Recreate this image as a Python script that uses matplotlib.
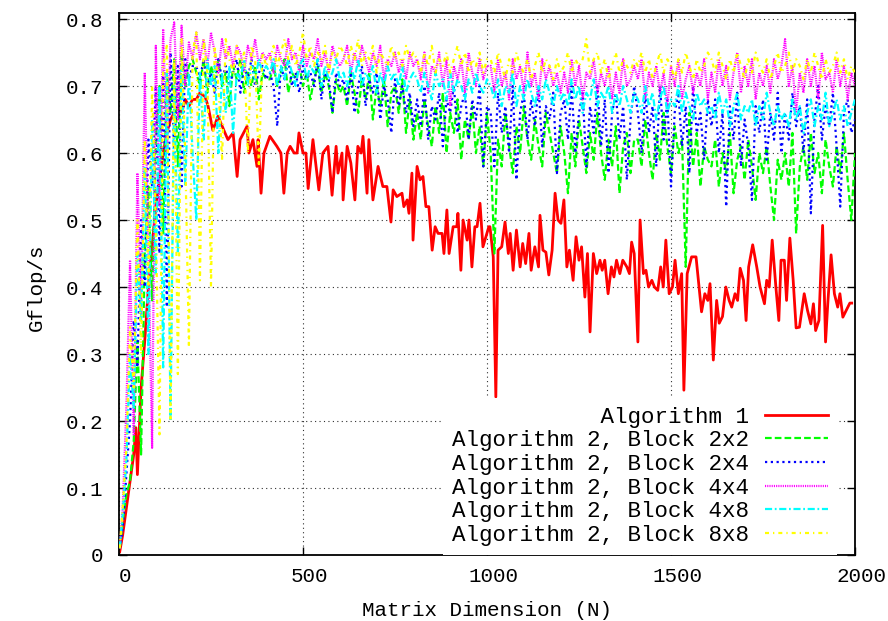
import matplotlib
matplotlib.use("Agg")
import matplotlib.pyplot as plt
import matplotlib.transforms as mtransforms

plt.rcParams['font.family'] = ['Liberation Mono', 'DejaVu Sans Mono']

# matrix sizes for the blocked runs (first point near the origin)
n_block = [2] + list(range(10, 2001, 10))

# Algorithm 1 (irregular spacing)
alg1_n = [2, 10, 20, 30, 40, 46, 50, 60, 70, 80,
          90, 100, 110, 120, 130, 140, 150, 160, 170, 180,
          190, 200, 210, 220,
          234, 242, 255, 269, 288, 296, 310, 321, 329, 348,
          353, 364, 375, 378, 386, 394, 410, 429, 440, 448,
          457, 465, 476, 484, 489, 500, 508, 514, 527, 543,
          554, 568, 579, 590, 595, 606, 609, 620, 630, 641,
          649, 658, 663, 674, 679, 690, 704, 717, 728, 739,
          745, 755, 769, 774, 783, 788, 796, 799, 810, 818,
          826, 834, 842, 851, 859, 867, 878, 883, 891, 897,
          908, 918, 921, 929, 935, 946, 951, 959, 967, 973,
          981, 989, 1005,
          1008, 1017, 1024, 1030, 1040, 1049, 1058, 1063, 1071, 1080,
          1090, 1097, 1105, 1114, 1120, 1130, 1140, 1144, 1152, 1160,
          1168, 1177, 1185, 1193, 1201, 1209, 1217, 1224, 1234, 1242,
          1250, 1257, 1266, 1273, 1280, 1289, 1298, 1307, 1313, 1320,
          1329, 1338, 1345, 1352, 1361, 1369, 1380, 1387, 1393, 1400,
          1410, 1416, 1425, 1432, 1439, 1448, 1455, 1464, 1472, 1479,
          1486, 1495, 1504, 1511, 1520, 1529, 1535, 1544, 1556, 1568,
          1583, 1592, 1600, 1606, 1615, 1624, 1631, 1640, 1649, 1658,
          1665, 1674, 1681, 1688, 1697, 1704, 1711, 1722, 1733, 1742,
          1754, 1760, 1767, 1775, 1785, 1793, 1799, 1808, 1814, 1823,
          1832, 1840, 1849, 1862, 1871, 1880, 1887, 1893, 1902, 1912,
          1920, 1926, 1935, 1944, 1953, 1959, 1967, 1976, 1986, 1991]
alg1_gf = [0.005, 0.03, 0.07, 0.11, 0.15, 0.19, 0.12, 0.25, 0.32, 0.40,
           0.46, 0.52, 0.56, 0.60, 0.63, 0.65, 0.66, 0.67, 0.66, 0.68,
           0.67, 0.68, 0.68, 0.69,
           0.684, 0.67, 0.634, 0.655, 0.63, 0.62, 0.63, 0.565, 0.62, 0.64,
           0.60, 0.62, 0.58, 0.62, 0.54, 0.60, 0.625, 0.61, 0.60, 0.54,
           0.60, 0.61, 0.60, 0.60, 0.63, 0.60, 0.60, 0.547, 0.62, 0.545,
           0.60, 0.61, 0.537, 0.61, 0.57, 0.60, 0.53, 0.61, 0.585, 0.53,
           0.61, 0.60, 0.625, 0.54, 0.62, 0.53, 0.58, 0.55, 0.55, 0.497,
           0.545, 0.535, 0.54, 0.52, 0.53, 0.51, 0.57, 0.47, 0.58, 0.56,
           0.565, 0.52, 0.52, 0.455, 0.49, 0.48, 0.48, 0.45, 0.515, 0.45,
           0.49, 0.49, 0.51, 0.425, 0.50, 0.47, 0.50, 0.43, 0.49, 0.49,
           0.525, 0.46, 0.49,
           0.49, 0.445, 0.236, 0.455, 0.46, 0.497, 0.45, 0.48, 0.425, 0.485,
           0.43, 0.465, 0.435, 0.48, 0.425, 0.46, 0.43, 0.507, 0.455, 0.452,
           0.418, 0.455, 0.54, 0.50, 0.495, 0.53, 0.43, 0.455, 0.41, 0.475,
           0.44, 0.46, 0.385, 0.45, 0.333, 0.45, 0.42, 0.44, 0.425, 0.44,
           0.39, 0.43, 0.415, 0.44, 0.42, 0.44, 0.43, 0.42, 0.467, 0.45,
           0.318, 0.50, 0.42, 0.425, 0.40, 0.41, 0.40, 0.395, 0.43, 0.40,
           0.47, 0.39, 0.40, 0.44, 0.39, 0.42, 0.246, 0.42, 0.445, 0.445,
           0.363, 0.39, 0.38, 0.405, 0.291, 0.38, 0.346, 0.356, 0.40, 0.38,
           0.37, 0.39, 0.38, 0.428, 0.41, 0.35, 0.43, 0.463, 0.43, 0.40,
           0.375, 0.41, 0.40, 0.47, 0.40, 0.35, 0.44, 0.44, 0.38, 0.473,
           0.41, 0.339, 0.34, 0.39, 0.365, 0.345, 0.375, 0.335, 0.35, 0.492,
           0.318, 0.375, 0.448, 0.39, 0.37, 0.39, 0.355, 0.365, 0.376, 0.376]

block_2x2 = [0.01,
    0.05, 0.09, 0.11, 0.17, 0.32, 0.15, 0.45, 0.55, 0.38, 0.62, 0.70, 0.48, 0.72, 0.66, 0.74, 0.58, 0.75, 0.70, 0.73, 0.74,
    0.72, 0.70, 0.74, 0.69, 0.73, 0.71, 0.74, 0.70, 0.72, 0.67, 0.73, 0.71, 0.74, 0.69, 0.72, 0.70, 0.73, 0.68, 0.72, 0.71,
    0.71, 0.73, 0.70, 0.72, 0.74, 0.69, 0.72, 0.71, 0.73, 0.70, 0.72, 0.68, 0.71, 0.73, 0.69, 0.72, 0.70, 0.66, 0.71, 0.69,
    0.70, 0.67, 0.72, 0.69, 0.66, 0.71, 0.68, 0.72, 0.65, 0.70, 0.67, 0.71, 0.64, 0.69, 0.70, 0.66, 0.71, 0.63, 0.68, 0.62,
    0.66, 0.62, 0.68, 0.64, 0.61, 0.67, 0.63, 0.69, 0.60, 0.66, 0.63, 0.68, 0.59, 0.65, 0.62, 0.67, 0.60, 0.64, 0.58, 0.66,
    0.60, 0.45, 0.62, 0.58, 0.66, 0.61, 0.57, 0.64, 0.60, 0.67, 0.62, 0.59, 0.65, 0.61, 0.58, 0.66, 0.63, 0.60, 0.57, 0.64,
    0.60, 0.54, 0.63, 0.58, 0.65, 0.61, 0.57, 0.63, 0.59, 0.66, 0.60, 0.56, 0.62, 0.58, 0.64, 0.54, 0.61, 0.63, 0.57, 0.62,
    0.62, 0.58, 0.65, 0.60, 0.56, 0.63, 0.59, 0.66, 0.61, 0.57, 0.64, 0.60, 0.62, 0.43, 0.66, 0.58, 0.63, 0.55, 0.61, 0.59,
    0.58, 0.62, 0.55, 0.60, 0.57, 0.63, 0.54, 0.59, 0.61, 0.56, 0.62, 0.58, 0.53, 0.60, 0.57, 0.61, 0.55, 0.50, 0.59, 0.56,
    0.60, 0.55, 0.63, 0.48, 0.58, 0.61, 0.56, 0.63, 0.57, 0.60, 0.54, 0.62, 0.58, 0.55, 0.61, 0.57, 0.63, 0.56, 0.50, 0.60]

block_2x4 = [0.01,
    0.04, 0.12, 0.20, 0.35, 0.28, 0.50, 0.40, 0.62, 0.55, 0.70, 0.45, 0.72, 0.37, 0.75, 0.60, 0.73, 0.55, 0.74, 0.71, 0.73,
    0.73, 0.71, 0.74, 0.70, 0.72, 0.69, 0.74, 0.71, 0.73, 0.70, 0.72, 0.74, 0.69, 0.73, 0.71, 0.74, 0.70, 0.72, 0.73, 0.71,
    0.72, 0.70, 0.64, 0.73, 0.71, 0.74, 0.70, 0.72, 0.69, 0.73, 0.71, 0.72, 0.70, 0.74, 0.68, 0.72, 0.71, 0.66, 0.72, 0.70,
    0.71, 0.68, 0.72, 0.66, 0.70, 0.73, 0.67, 0.71, 0.69, 0.72, 0.65, 0.70, 0.68, 0.63, 0.71, 0.67, 0.70, 0.66, 0.69, 0.64,
    0.68, 0.64, 0.70, 0.62, 0.67, 0.65, 0.69, 0.61, 0.68, 0.66, 0.70, 0.63, 0.67, 0.69, 0.62, 0.68, 0.65, 0.70, 0.58, 0.67,
    0.66, 0.58, 0.69, 0.63, 0.67, 0.60, 0.70, 0.56, 0.66, 0.69, 0.62, 0.68, 0.64, 0.70, 0.61, 0.67, 0.65, 0.69, 0.57, 0.66,
    0.68, 0.62, 0.70, 0.60, 0.66, 0.69, 0.58, 0.67, 0.63, 0.70, 0.61, 0.68, 0.57, 0.66, 0.69, 0.62, 0.67, 0.56, 0.65, 0.70,
    0.66, 0.60, 0.69, 0.63, 0.67, 0.58, 0.70, 0.62, 0.68, 0.55, 0.66, 0.69, 0.61, 0.67, 0.57, 0.70, 0.63, 0.66, 0.59, 0.68,
    0.64, 0.68, 0.60, 0.66, 0.52, 0.67, 0.62, 0.69, 0.58, 0.65, 0.61, 0.53, 0.67, 0.63, 0.68, 0.59, 0.66, 0.62, 0.69, 0.60,
    0.66, 0.62, 0.69, 0.64, 0.67, 0.60, 0.68, 0.51, 0.65, 0.70, 0.62, 0.67, 0.64, 0.69, 0.61, 0.52, 0.66, 0.68, 0.63, 0.65]

block_4x4 = [0.01,
    0.07, 0.22, 0.44, 0.18, 0.57, 0.36, 0.72, 0.45, 0.16, 0.76, 0.52, 0.785, 0.60, 0.77, 0.795, 0.65, 0.79, 0.70, 0.765, 0.74,
    0.78, 0.74, 0.77, 0.73, 0.78, 0.75, 0.72, 0.77, 0.74, 0.76, 0.73, 0.76, 0.75, 0.72, 0.76, 0.74, 0.77, 0.73, 0.75, 0.74,
    0.75, 0.72, 0.76, 0.74, 0.73, 0.77, 0.74, 0.75, 0.72, 0.76, 0.73, 0.75, 0.74, 0.77, 0.73, 0.75, 0.72, 0.76, 0.74, 0.73,
    0.74, 0.76, 0.72, 0.75, 0.73, 0.76, 0.74, 0.72, 0.75, 0.73, 0.76, 0.71, 0.74, 0.73, 0.75, 0.72, 0.74, 0.71, 0.75, 0.73,
    0.74, 0.71, 0.75, 0.69, 0.73, 0.72, 0.75, 0.70, 0.74, 0.67, 0.73, 0.71, 0.74, 0.69, 0.75, 0.72, 0.70, 0.74, 0.71, 0.73,
    0.73, 0.69, 0.74, 0.70, 0.72, 0.68, 0.74, 0.71, 0.73, 0.69, 0.75, 0.70, 0.72, 0.68, 0.74, 0.71, 0.73, 0.70, 0.72, 0.69,
    0.72, 0.69, 0.74, 0.70, 0.73, 0.68, 0.72, 0.71, 0.74, 0.69, 0.72, 0.70, 0.73, 0.68, 0.72, 0.69, 0.74, 0.70, 0.71, 0.73,
    0.71, 0.74, 0.68, 0.72, 0.70, 0.73, 0.69, 0.72, 0.67, 0.73, 0.70, 0.74, 0.68, 0.71, 0.73, 0.69, 0.72, 0.70, 0.74, 0.68,
    0.72, 0.69, 0.74, 0.70, 0.73, 0.68, 0.72, 0.75, 0.69, 0.73, 0.70, 0.74, 0.68, 0.72, 0.70, 0.73, 0.69, 0.74, 0.71, 0.73,
    0.77, 0.70, 0.73, 0.66, 0.72, 0.69, 0.74, 0.70, 0.73, 0.68, 0.75, 0.71, 0.72, 0.69, 0.74, 0.70, 0.73, 0.68, 0.72, 0.70]

block_4x8 = [0.01,
    0.06, 0.14, 0.30, 0.22, 0.45, 0.35, 0.58, 0.30, 0.65, 0.42, 0.70, 0.28, 0.72, 0.20, 0.70, 0.45, 0.73, 0.55, 0.72, 0.60,
    0.50, 0.72, 0.62, 0.74, 0.70, 0.73, 0.60, 0.72, 0.66, 0.73, 0.63, 0.72, 0.71, 0.74, 0.70, 0.73, 0.71, 0.74, 0.72, 0.73,
    0.72, 0.74, 0.70, 0.73, 0.71, 0.74, 0.72, 0.70, 0.73, 0.74, 0.71, 0.73, 0.72, 0.74, 0.70, 0.73, 0.71, 0.72, 0.74, 0.71,
    0.72, 0.70, 0.73, 0.71, 0.74, 0.70, 0.72, 0.71, 0.73, 0.69, 0.72, 0.70, 0.73, 0.71, 0.72, 0.70, 0.73, 0.69, 0.71, 0.72,
    0.71, 0.69, 0.72, 0.70, 0.68, 0.72, 0.70, 0.71, 0.68, 0.72, 0.69, 0.71, 0.70, 0.68, 0.71, 0.69, 0.72, 0.70, 0.69, 0.71,
    0.70, 0.68, 0.71, 0.67, 0.70, 0.69, 0.72, 0.67, 0.70, 0.68, 0.71, 0.69, 0.67, 0.70, 0.68, 0.71, 0.69, 0.67, 0.70, 0.68,
    0.69, 0.67, 0.71, 0.68, 0.70, 0.66, 0.69, 0.68, 0.71, 0.67, 0.69, 0.68, 0.70, 0.66, 0.69, 0.67, 0.70, 0.68, 0.66, 0.69,
    0.68, 0.66, 0.70, 0.67, 0.69, 0.65, 0.68, 0.70, 0.66, 0.68, 0.67, 0.70, 0.66, 0.69, 0.67, 0.65, 0.69, 0.67, 0.68, 0.66,
    0.67, 0.65, 0.69, 0.66, 0.68, 0.64, 0.67, 0.69, 0.65, 0.67, 0.66, 0.68, 0.64, 0.67, 0.65, 0.69, 0.66, 0.64, 0.67, 0.65,
    0.66, 0.64, 0.68, 0.65, 0.67, 0.63, 0.66, 0.68, 0.64, 0.67, 0.65, 0.69, 0.64, 0.66, 0.68, 0.65, 0.67, 0.64, 0.66, 0.68]

block_8x8 = [0.01,
    0.07, 0.16, 0.34, 0.25, 0.50, 0.30, 0.62, 0.40, 0.70, 0.50, 0.18, 0.73, 0.76, 0.20, 0.74, 0.27, 0.77, 0.60, 0.31, 0.75,
    0.78, 0.41, 0.77, 0.72, 0.40, 0.76, 0.70, 0.59, 0.77, 0.74, 0.72, 0.76, 0.73, 0.75, 0.60, 0.76, 0.74, 0.58, 0.75, 0.73,
    0.74, 0.76, 0.73, 0.75, 0.77, 0.74, 0.76, 0.73, 0.75, 0.78, 0.74, 0.76, 0.73, 0.75, 0.74, 0.76, 0.72, 0.75, 0.74, 0.76,
    0.75, 0.73, 0.76, 0.74, 0.77, 0.73, 0.75, 0.74, 0.76, 0.72, 0.75, 0.74, 0.73, 0.76, 0.74, 0.75, 0.73, 0.76, 0.74, 0.75,
    0.74, 0.72, 0.75, 0.73, 0.76, 0.72, 0.74, 0.73, 0.75, 0.72, 0.74, 0.76, 0.73, 0.75, 0.72, 0.74, 0.73, 0.75, 0.72, 0.74,
    0.74, 0.72, 0.75, 0.73, 0.71, 0.74, 0.72, 0.75, 0.73, 0.72, 0.74, 0.71, 0.73, 0.75, 0.72, 0.74, 0.73, 0.71, 0.74, 0.72,
    0.73, 0.75, 0.72, 0.74, 0.73, 0.74, 0.77, 0.72, 0.74, 0.75, 0.72, 0.74, 0.71, 0.73, 0.75, 0.72, 0.74, 0.73, 0.72, 0.74,
    0.73, 0.75, 0.72, 0.74, 0.71, 0.73, 0.75, 0.72, 0.74, 0.73, 0.71, 0.74, 0.72, 0.75, 0.73, 0.71, 0.74, 0.72, 0.73, 0.75,
    0.74, 0.72, 0.75, 0.73, 0.71, 0.74, 0.72, 0.75, 0.73, 0.71, 0.74, 0.72, 0.75, 0.73, 0.72, 0.74, 0.71, 0.73, 0.75, 0.72,
    0.73, 0.75, 0.72, 0.74, 0.73, 0.71, 0.74, 0.72, 0.75, 0.73, 0.71, 0.74, 0.72, 0.73, 0.75, 0.72, 0.74, 0.71, 0.73, 0.72]

labels = ["Algorithm 1",
          "Algorithm 2, Block 2x2",
          "Algorithm 2, Block 2x4",
          "Algorithm 2, Block 4x4",
          "Algorithm 2, Block 4x8",
          "Algorithm 2, Block 8x8"]

x_ticks = [0, 500, 1000, 1500, 2000]
y_ticks = [0, 0.1, 0.2, 0.3, 0.4, 0.5, 0.6, 0.7, 0.8]
y_ticklabels = ["0", "0.1", "0.2", "0.3", "0.4", "0.5", "0.6", "0.7", "0.8"]

FS = 15
LEG_FS = 16.2

fig = plt.figure(figsize=(8.88, 6.21), dpi=100)
ax = fig.add_axes([119 / 888, 66 / 621, 736 / 888, 542 / 621])

# right-align legend text by padding (monospace font)
width = max(len(s) for s in labels)
padded = [s.rjust(width) for s in labels]

ax.plot(alg1_n, alg1_gf, color="#ff0000", lw=2.0, label=padded[0], zorder=2)
ax.plot(n_block, block_2x2, color="#00ff00", lw=1.6, dashes=(3.0, 1.4), label=padded[1], zorder=3)
ax.plot(n_block, block_2x4, color="#0000ff", lw=1.6, dashes=(1.0, 1.6), label=padded[2], zorder=4)
ax.plot(n_block, block_4x4, color="#ff00ff", lw=1.6, dashes=(0.5, 0.5), label=padded[3], zorder=5)
ax.plot(n_block, block_4x8, color="#00ffff", lw=1.6, dashes=(3.2, 1.2, 0.8, 1.2), label=padded[4], zorder=6)
ax.plot(n_block, block_8x8, color="#ffff00", lw=1.6, dashes=(1.8, 1.8, 0.6, 1.8), label=padded[5], zorder=7)

ax.set_xlim(0, 2000)
ax.set_ylim(0, 0.809)
ax.set_xticks(x_ticks)
ax.set_yticks(y_ticks)
ax.set_yticklabels(y_ticklabels)
ax.grid(True, color="#303030", linestyle=(0, (1, 3)), lw=0.8)
ax.tick_params(direction="in", length=6, width=1.0, top=True, right=True,
               labelsize=FS, colors="black")
ax.tick_params(axis="y", pad=11)
ax.tick_params(axis="x", pad=9)
for sp in ax.spines.values():
    sp.set_linewidth(1.3)

# gnuplot nudges the x tick labels a little to the right
offset = mtransforms.ScaledTranslation(6 / 100, 0, fig.dpi_scale_trans)
for lbl in ax.get_xticklabels():
    lbl.set_transform(lbl.get_transform() + offset)

leg = ax.legend(loc="lower right", bbox_to_anchor=(0.9755, 0.0), borderaxespad=0,
                fontsize=LEG_FS, markerfirst=False, handlelength=2.8, handletextpad=0.7,
                labelspacing=0.12, borderpad=0.4, frameon=True, fancybox=False)
leg.get_frame().set_facecolor("white")
leg.get_frame().set_edgecolor("none")
leg.get_frame().set_alpha(1.0)
leg.set_zorder(10)

fig.text(36 / 888, 1 - 287 / 621, "Gflop/s", rotation=90, ha="center", va="center", fontsize=FS)
fig.text(487 / 888, 5 / 621, "Matrix Dimension (N)", ha="center", va="baseline", fontsize=FS)

fig.savefig("out.png", dpi=100)
